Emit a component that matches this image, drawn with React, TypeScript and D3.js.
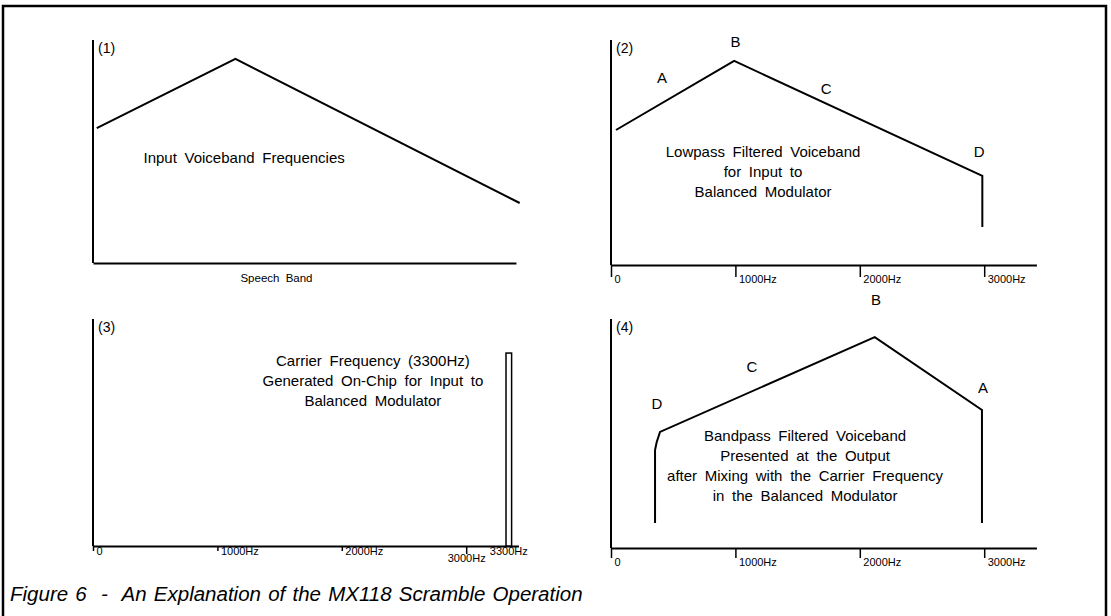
import { useEffect, useRef } from "react";
import * as d3 from "d3";

// axis ticks shared by the frequency plots
const tickFreqs = [0, 1000, 2000, 3000];
const tickLabels = ["0", "1000Hz", "2000Hz", "3000Hz"];

// (1) input voiceband
const inputFreqs = [30, 1145, 3430];
const inputLevels = [60.5, 91.5, 26.9];

// (2) lowpass filtered
const lowpassFreqs = [40, 990, 2985, 2985];
const lowpassLevels = [60, 90.7, 39.6, 16.9];
const lowpassMarks = ["A", "B", "C", "D"];
const lowpassMarkFreqs = [410, 1000, 1730, 2960];
const lowpassMarkLevels = [81, 97, 76, 48];

// (3) carrier
const carrierBand = [3320, 3365];
const carrierLevel = 85;
const carrierLabel = "3300Hz";

// (4) bandpass output
const bandpassFreqs = [354, 354, 367, 394, 2120, 2982, 2982];
const bandpassLevels = [10.9, 42.8, 46.2, 50.7, 92.1, 60.3, 10.9];
const bandpassMarks = ["D", "C", "B", "A"];
const bandpassMarkFreqs = [370, 1133, 2130, 2990];
const bandpassMarkLevels = [60.7, 76.9, 106, 67.7];

const panelTitles = ["(1)", "(2)", "(3)", "(4)"];
const panelTexts = [
  ["Input Voiceband Frequencies"],
  ["Lowpass Filtered Voiceband", "for Input to", "Balanced Modulator"],
  ["Carrier Frequency (3300Hz)", "Generated On-Chip for Input to", "Balanced Modulator"],
  [
    "Bandpass Filtered Voiceband",
    "Presented at the Output",
    "after Mixing with the Carrier Frequency",
    "in the Balanced Modulator",
  ],
];
// where each text block is centred (freq, level of first baseline)
const textFreqs = [1215, 1222, 2250, 1560];
const textLevels = [44.8, 48, 79.3, 46.7];
const speechBandLabel = "Speech Band";
const caption = "Figure 6  -  An Explanation of the MX118 Scramble Operation";

const FONT = "'Liberation Sans', Arial, Helvetica, sans-serif";

export default function App() {
  const svgRef = useRef<SVGSVGElement | null>(null);

  useEffect(() => {
    const svg = d3.select(svgRef.current);
    svg.selectAll("*").remove();

    svg
      .append("rect")
      .attr("x", 3)
      .attr("y", 6)
      .attr("width", 1103)
      .attr("height", 640)
      .attr("fill", "white")
      .attr("stroke", "black")
      .attr("stroke-width", 2.5);

    const panels = [
      { x0: 93, axisY: 263, topY: 40, maxF: 3400 },
      { x0: 611, axisY: 265, topY: 40, maxF: 3420 },
      { x0: 93, axisY: 546, topY: 319, maxF: 3420 },
      { x0: 611, axisY: 548, topY: 319, maxF: 3420 },
    ];

    const scales = panels.map((p) => {
      const x = d3
        .scaleLinear()
        .domain([0, p.maxF])
        .range([p.x0, p.x0 + p.maxF * 0.1244]);
      const y = d3.scaleLinear().domain([0, 100]).range([p.axisY, p.topY]);
      return { x, y };
    });

    panels.forEach((p, i) => {
      const { x, y } = scales[i];
      const g = svg.append("g");

      // y axis
      g.append("line")
        .attr("x1", x(0))
        .attr("x2", x(0))
        .attr("y1", y(100))
        .attr("y2", y(0))
        .attr("stroke", "black")
        .attr("stroke-width", 2);

      // title
      g.append("text")
        .attr("x", x(0) + 5)
        .attr("y", y(100) + 13)
        .attr("font-family", FONT)
        .attr("font-size", 14)
        .text(panelTitles[i]);

      // x axis
      const tickLen = i === 2 ? 5 : i === 1 ? 12 : 10;
      const axis = d3
        .axisBottom(x)
        .tickValues(i === 0 ? [] : tickFreqs)
        .tickSize(tickLen)
        .tickSizeOuter(0)
        .tickFormat((_, k) => tickLabels[k]);
      const ax = g
        .append("g")
        .attr("transform", `translate(0,${p.axisY})`)
        .call(axis);
      ax.select(".domain").attr("stroke-width", 2);
      ax.selectAll(".tick line").attr("stroke-width", 1.5);
      ax.selectAll<SVGTextElement, number>(".tick text")
        .attr("x", 3)
        .attr("y", i === 2 ? 9 : 18)
        .attr("dy", 0)
        .attr("text-anchor", "start")
        .attr("font-family", FONT)
        .attr("font-size", 11)
        .attr("fill", "black");

      if (i === 2) {
        ax.selectAll<SVGLineElement, number>(".tick line").attr("y2", (d) =>
          d === 3000 ? 8 : 5
        );
        ax.selectAll<SVGTextElement, number>(".tick text")
          .filter((d) => d === 3000)
          .attr("x", 0)
          .attr("y", 16)
          .attr("text-anchor", "middle");
      }

      // description
      const tx = x(textFreqs[i]);
      const t = g
        .append("text")
        .attr("font-family", FONT)
        .attr("font-size", 15)
        .attr("word-spacing", 3.5)
        .attr("text-anchor", "middle");
      panelTexts[i].forEach((s, k) => {
        t.append("tspan")
          .attr("x", tx)
          .attr("y", y(textLevels[i]) + k * 20)
          .text(s);
      });
    });

    const drawLine = (i: number, freqs: number[], levels: number[]) => {
      const { x, y } = scales[i];
      const pts = freqs.map((f, k) => [x(f), y(levels[k])] as [number, number]);
      svg
        .append("path")
        .attr("d", d3.line()(pts))
        .attr("fill", "none")
        .attr("stroke", "black")
        .attr("stroke-width", 2)
        .attr("stroke-linejoin", "miter");
    };

    const drawMarks = (i: number, marks: string[], freqs: number[], levels: number[]) => {
      const { x, y } = scales[i];
      svg
        .append("g")
        .selectAll("text")
        .data(marks)
        .join("text")
        .attr("x", (_, k) => x(freqs[k]))
        .attr("y", (_, k) => y(levels[k]))
        .attr("text-anchor", "middle")
        .attr("font-family", FONT)
        .attr("font-size", 15)
        .text((d) => d);
    };

    drawLine(0, inputFreqs, inputLevels);
    drawLine(1, lowpassFreqs, lowpassLevels);
    drawMarks(1, lowpassMarks, lowpassMarkFreqs, lowpassMarkLevels);
    drawLine(3, bandpassFreqs, bandpassLevels);
    drawMarks(3, bandpassMarks, bandpassMarkFreqs, bandpassMarkLevels);

    // speech band label
    const s0 = scales[0];
    svg
      .append("text")
      .attr("x", s0.x(1475))
      .attr("y", panels[0].axisY + 19)
      .attr("text-anchor", "middle")
      .attr("font-family", FONT)
      .attr("font-size", 11.5)
      .attr("word-spacing", 3)
      .text(speechBandLabel);

    // carrier bar
    const s2 = scales[2];
    svg
      .append("rect")
      .attr("x", s2.x(carrierBand[0]))
      .attr("y", s2.y(carrierLevel))
      .attr("width", s2.x(carrierBand[1]) - s2.x(carrierBand[0]))
      .attr("height", s2.y(0) - s2.y(carrierLevel))
      .attr("fill", "white")
      .attr("stroke", "black")
      .attr("stroke-width", 1.5);
    svg
      .append("text")
      .attr("x", s2.x((carrierBand[0] + carrierBand[1]) / 2))
      .attr("y", panels[2].axisY + 9)
      .attr("text-anchor", "middle")
      .attr("font-family", FONT)
      .attr("font-size", 11)
      .text(carrierLabel);

    // caption
    svg
      .append("text")
      .attr("x", 10)
      .attr("y", 601)
      .attr("font-family", FONT)
      .attr("font-size", 20.5)
      .attr("font-style", "italic")
      .attr("word-spacing", 1.5)
      .style("white-space", "pre")
      .text(caption);
  }, []);

  return (
    <svg
      ref={svgRef}
      width={1111}
      height={616}
      style={{ position: "absolute", left: 0, top: 0, background: "white" }}
    ></svg>
  );
}
